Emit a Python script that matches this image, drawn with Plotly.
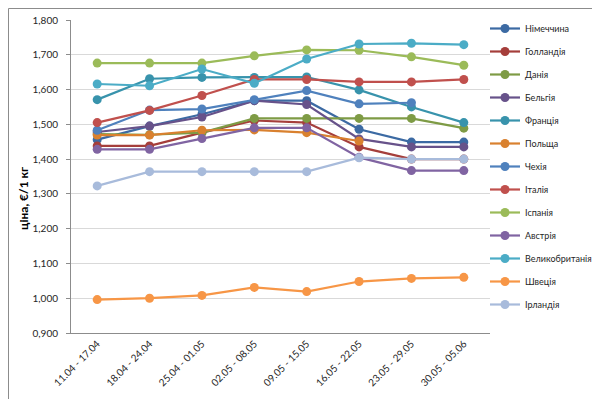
import plotly.graph_objects as go

weeks = ["11.04 - 17.04", "18.04 - 24.04", "25.04 - 01.05", "02.05 - 08.05",
         "09.05 - 15.05", "16.05 - 22.05", "23.05 - 29.05", "30.05 - 05.06"]

germany     = [1.456, 1.495, 1.529, 1.568, 1.568, 1.486, 1.449, 1.449]
netherlands = [1.438, 1.438, 1.476, 1.511, 1.505, 1.435, 1.400, 1.400]
denmark     = [1.472, 1.470, 1.476, 1.517, 1.517, 1.517, 1.517, 1.489]
belgium     = [1.478, 1.495, 1.521, 1.568, 1.557, 1.458, 1.435, 1.435]
france      = [1.571, 1.631, 1.635, 1.635, 1.636, 1.599, 1.550, 1.505]
poland      = [1.469, 1.469, 1.483, 1.484, 1.476, 1.452, None, None]
czechia     = [1.483, 1.541, 1.544, 1.571, 1.597, 1.559, 1.562, None]
italy       = [1.505, 1.540, 1.583, 1.629, 1.629, 1.622, 1.622, 1.629]
spain       = [1.676, 1.676, 1.676, 1.697, 1.714, 1.713, 1.694, 1.670]
austria     = [1.428, 1.428, 1.459, 1.490, 1.490, 1.405, 1.367, 1.367]
uk          = [1.616, 1.611, 1.659, 1.618, 1.688, 1.731, 1.733, 1.729]
sweden      = [0.996, 1.000, 1.008, 1.031, 1.019, 1.048, 1.057, 1.060]
ireland     = [1.323, 1.364, 1.364, 1.364, 1.364, 1.404, 1.400, 1.400]

series = [
    ("Німеччина", germany, "#3C6AA3"),
    ("Голландія", netherlands, "#A53E3B"),
    ("Данія", denmark, "#7E9B45"),
    ("Бельгія", belgium, "#67528A"),
    ("Франція", france, "#3893AC"),
    ("Польща", poland, "#D9812F"),
    ("Чехія", czechia, "#4F81BD"),
    ("Італія", italy, "#C0504D"),
    ("Іспанія", spain, "#9BBB59"),
    ("Австрія", austria, "#8064A2"),
    ("Великобританія", uk, "#4BACC6"),
    ("Швеція", sweden, "#F79646"),
    ("Ірландія", ireland, "#A8BBDB"),
]

FONT = "Lato"

fig = go.Figure()
for i, (name, vals, col) in enumerate(series):
    fig.add_trace(go.Scatter(
        x=weeks, y=vals, name=name, mode="lines+markers",
        line=dict(color=col, width=2.2),
        marker=dict(color=col, size=9),
        legendgroup=f"g{i}",
        connectgaps=False,
    ))

fig.update_layout(
    width=600, height=399,
    margin=dict(l=63, r=118, t=12, b=74, autoexpand=False),
    paper_bgcolor="white", plot_bgcolor="white",
    separators=",.",
    font=dict(family=FONT, size=10, color="#262626"),
    showlegend=True,
    legend=dict(
        xref="container", yref="container",
        x=477 / 600, y=1 - 6 / 399, xanchor="left", yanchor="top",
        font=dict(family=FONT, size=9, color="#262626"),
        tracegroupgap=4, bgcolor="rgba(0,0,0,0)",
        itemwidth=30, maxheight=395,
    ),
    xaxis=dict(
        type="category", range=[-0.5, 7.5],
        tickangle=-45, showgrid=False, showline=True,
        linecolor="#8c8c8c", linewidth=1, ticks="",
        tickfont=dict(family=FONT, size=10, color="#262626"),
        fixedrange=True,
    ),
    yaxis=dict(
        range=[0.9, 1.8], dtick=0.1, tick0=0.9, tickformat=".3f",
        showgrid=True, gridcolor="#d9d9d9", gridwidth=1,
        showline=True, linecolor="#8c8c8c", linewidth=1,
        ticks="outside", ticklen=4, tickcolor="#8c8c8c",
        tickfont=dict(family=FONT, size=10, color="#262626"),
        zeroline=False, ticklabelstandoff=6,
    ),
    annotations=[dict(
        text="<b>ціна, €/1 кг</b>", textangle=-90,
        xref="paper", yref="paper",
        x=(15 - 63) / 419, y=1 - (191 - 12) / 313,
        xanchor="center", yanchor="middle", showarrow=False,
        font=dict(family=FONT, size=12, color="#000000"),
    )],
    shapes=[dict(
        type="rect", xref="paper", yref="paper",
        x0=(0.5 - 63) / 419, x1=(599.5 - 63) / 419,
        y0=1 - (398.5 - 12) / 313, y1=1 - (0.5 - 12) / 313,
        line=dict(color="#8c8c8c", width=1), fillcolor="rgba(0,0,0,0)",
        layer="below",
    )],
)

fig.write_html("out.html")
